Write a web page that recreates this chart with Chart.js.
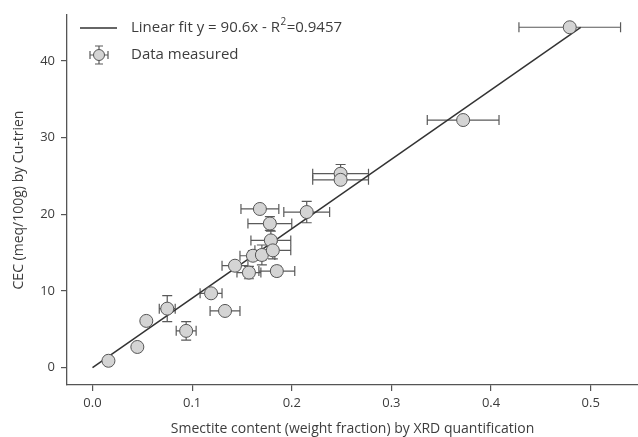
<!DOCTYPE html>
<html>
<head>
<meta charset="utf-8">
<script src="https://cdn.jsdelivr.net/npm/chart.js@4/dist/chart.umd.min.js"></script>
<style>
  html, body { margin: 0; padding: 0; background: #fff; }
  #wrap { width: 638px; height: 437px; }
</style>
</head>
<body>
<div id="wrap"><canvas id="chart"></canvas></div>
<script>
// smectite weight fraction (XRD) and CEC by Cu-trien
const smectite = [0.016, 0.045, 0.054, 0.075, 0.094, 0.119, 0.133, 0.143, 0.157, 0.161, 0.168,
  0.170, 0.178, 0.179, 0.181, 0.185, 0.215, 0.249, 0.249, 0.372, 0.479];
const cec = [0.9, 2.7, 6.1, 7.7, 4.8, 9.7, 7.4, 13.3, 12.4, 14.6, 20.7,
  14.7, 18.8, 16.6, 15.3, 12.6, 20.3, 25.3, 24.5, 32.3, 44.4];
const smectiteErr = [0, 0, 0, 0.008, 0.010, 0.011, 0.015, 0.013, 0.012, 0.013, 0.019,
  0.013, 0.022, 0.020, 0.018, 0.018, 0.023, 0.028, 0.028, 0.036, 0.051];
const cecErr = [0, 0, 0, 1.7, 1.2, 0, 0, 0, 0.8, 0.6, 0,
  1.3, 0.9, 1.2, 1.1, 0.6, 1.4, 1.2, 0.3, 0, 0];

// fitted line end points (y = 90.6x)
const fitX = [0, 0.49];
const fitY = [0, 44.4];

const xTicks = [0, 0.1, 0.2, 0.3, 0.4, 0.5];
const yTicks = [0, 10, 20, 30, 40];

const FONT = 'Open Sans';
const AXIS = '#555555';
const TEXT = '#3d3d3d';

const errorBars = {
  id: 'errorBars',
  beforeDatasetsDraw(chart) {
    const { ctx, scales: { x, y } } = chart;
    const cap = 5;
    ctx.save();
    ctx.strokeStyle = '#5a5a5a';
    ctx.lineWidth = 1.2;
    smectite.forEach((sx, i) => {
      const px = x.getPixelForValue(sx);
      const py = y.getPixelForValue(cec[i]);
      if (smectiteErr[i] > 0) {
        const x0 = x.getPixelForValue(sx - smectiteErr[i]);
        const x1 = x.getPixelForValue(sx + smectiteErr[i]);
        ctx.beginPath();
        ctx.moveTo(x0, py); ctx.lineTo(x1, py);
        ctx.moveTo(x0, py - cap); ctx.lineTo(x0, py + cap);
        ctx.moveTo(x1, py - cap); ctx.lineTo(x1, py + cap);
        ctx.stroke();
      }
      if (cecErr[i] > 0) {
        const y0 = y.getPixelForValue(cec[i] - cecErr[i]);
        const y1 = y.getPixelForValue(cec[i] + cecErr[i]);
        ctx.beginPath();
        ctx.moveTo(px, y0); ctx.lineTo(px, y1);
        ctx.moveTo(px - cap, y0); ctx.lineTo(px + cap, y0);
        ctx.moveTo(px - cap, y1); ctx.lineTo(px + cap, y1);
        ctx.stroke();
      }
    });
    ctx.restore();
  }
};

// legend drawn inside the plot, top left
const innerLegend = {
  id: 'innerLegend',
  afterDraw(chart) {
    const { ctx } = chart;
    ctx.save();
    ctx.strokeStyle = '#333';
    ctx.lineWidth = 1.5;
    ctx.beginPath();
    ctx.moveTo(80, 28); ctx.lineTo(117, 28);
    ctx.stroke();

    ctx.fillStyle = TEXT;
    ctx.textBaseline = 'middle';
    ctx.font = '15px "' + FONT + '"';
    const part1 = 'Linear fit y = 90.6x - R';
    ctx.fillText(part1, 131, 28);
    let w = ctx.measureText(part1).width;
    ctx.font = '10px "' + FONT + '"';
    ctx.fillText('2', 131 + w + 0.5, 22);
    const w2 = ctx.measureText('2').width;
    ctx.font = '15px "' + FONT + '"';
    ctx.fillText('=0.9457', 131 + w + w2 + 1, 28);
    ctx.fillText('Data measured', 131, 55);

    // marker with error bars
    const cx = 99, cy = 55;
    ctx.strokeStyle = '#5a5a5a';
    ctx.lineWidth = 1.2;
    ctx.beginPath();
    ctx.moveTo(90, cy); ctx.lineTo(108, cy);
    ctx.moveTo(90, cy - 4); ctx.lineTo(90, cy + 4);
    ctx.moveTo(108, cy - 4); ctx.lineTo(108, cy + 4);
    ctx.moveTo(cx, 46); ctx.lineTo(cx, 64);
    ctx.moveTo(cx - 4, 46); ctx.lineTo(cx + 4, 46);
    ctx.moveTo(cx - 4, 64); ctx.lineTo(cx + 4, 64);
    ctx.stroke();
    ctx.beginPath();
    ctx.arc(cx, cy, 5.5, 0, Math.PI * 2);
    ctx.fillStyle = '#d4d4d4';
    ctx.fill();
    ctx.strokeStyle = '#555';
    ctx.lineWidth = 1;
    ctx.stroke();
    ctx.restore();
  }
};

new Chart(document.getElementById('chart'), {
  type: 'scatter',
  data: {
    datasets: [
      {
        label: 'Data measured',
        data: smectite.map((v, i) => ({ x: v, y: cec[i] })),
        pointRadius: 6.5,
        pointBackgroundColor: '#d4d4d4',
        pointBorderColor: '#555555',
        pointBorderWidth: 1,
        order: 1,
      },
      {
        type: 'line',
        label: 'Linear fit',
        data: fitX.map((v, i) => ({ x: v, y: fitY[i] })),
        borderColor: '#333333',
        borderWidth: 1.5,
        pointRadius: 0,
        fill: false,
        order: 2,
      }
    ]
  },
  options: {
    responsive: true,
    maintainAspectRatio: false,
    animation: false,
    layout: { autoPadding: false, padding: { top: 15, right: 0, left: 0, bottom: 0 } },
    plugins: {
      legend: { display: false },
      tooltip: { enabled: false },
    },
    scales: {
      x: {
        type: 'linear',
        min: -0.0256,
        max: 0.5475,
        afterBuildTicks: scale => { scale.ticks = xTicks.map(v => ({ value: v })); },
        afterFit: scale => {
          scale.height = 52;
          scale.paddingLeft = 0;
          scale.paddingRight = 0;
        },
        grid: { drawOnChartArea: false, drawTicks: true, tickLength: 6, color: AXIS, lineWidth: 1.2 },
        border: { display: true, color: AXIS, width: 1.3 },
        ticks: {
          padding: 4,
          color: TEXT,
          font: { family: FONT, size: 13 },
          callback: v => v.toFixed(1),
        },
        title: {
          display: true,
          text: 'Smectite content (weight fraction) by XRD quantification',
          color: TEXT,
          font: { family: FONT, size: 14 },
          padding: { top: 0, bottom: 0 },
        },
      },
      y: {
        type: 'linear',
        min: -2.26,
        max: 46,
        afterBuildTicks: scale => { scale.ticks = yTicks.map(v => ({ value: v })); },
        afterFit: scale => {
          scale.width = 67;
          scale.paddingTop = 0;
          scale.paddingBottom = 0;
        },
        grid: { drawOnChartArea: false, drawTicks: true, tickLength: 6, color: AXIS, lineWidth: 1.2 },
        border: { display: true, color: AXIS, width: 1.3 },
        ticks: {
          padding: 6,
          color: TEXT,
          font: { family: FONT, size: 13 },
        },
        title: {
          display: true,
          text: 'CEC (meq/100g) by Cu-trien',
          color: TEXT,
          font: { family: FONT, size: 14 },
          padding: { top: 11, bottom: 0 },
        },
      },
    },
  },
  plugins: [errorBars, innerLegend],
});
</script>
</body>
</html>
